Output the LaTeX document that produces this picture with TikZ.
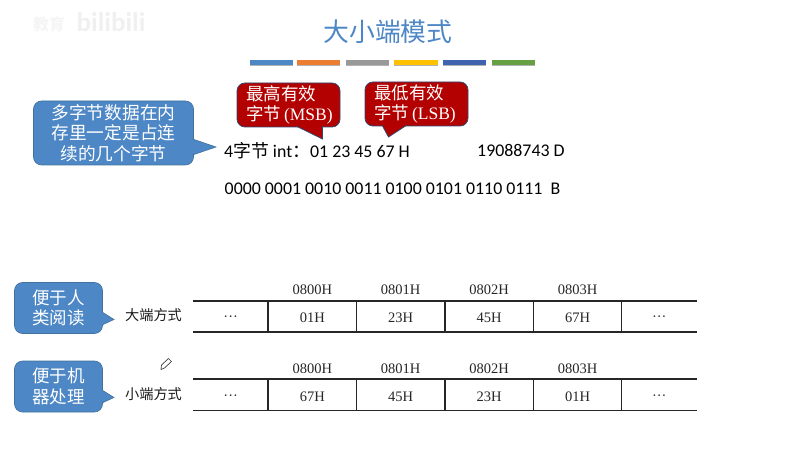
\documentclass[tikz,border=0pt]{standalone}
\usepackage{fontspec}
\setmainfont{Liberation Serif}
\newfontfamily\cjk{Noto Sans CJK SC}
\newfontfamily\calibri{Carlito}
\usetikzlibrary{calc}
\definecolor{bluefill}{HTML}{4D87C5}
\definecolor{blueline}{HTML}{41719C}
\definecolor{redfill}{HTML}{B30000}
\definecolor{redline}{HTML}{2F4A70}
\newcommand{\calltail}[4]{
  \path[#1,draw=none] (#2) -- (#3) -- (#4) -- cycle;
  \draw[#1,fill=none] (#2) -- (#3) -- (#4);
}
\tikzset{
  {blue bubble/.style} ={fill=bluefill,draw=blueline,line width=.6pt},
  {red bubble/.style} ={fill=redfill,draw=redline,line width=.8pt},
  {bubble box/.style} ={rectangle,rounded corners=8pt,inner sep=0,text=white,align=center},
  {bar/.style} ={draw=none,fill=#1},
  {rule/.style} ={draw=black!85,line width=1.9pt},
  {thin rule/.style} ={draw=black!85,line width=1.3pt},
  {cell/.style} ={font=\fontsize{14.5}{16}\selectfont,text=black!85,inner sep=0},
  {way/.style} ={font=\cjk\fontsize{14.2}{16}\selectfont,text=black!90,inner sep=0},
  {line text/.style} ={font=\calibri\fontsize{17.85}{20}\selectfont,text=black,anchor=west,inner sep=0},
}
\begin{document}
\begin{tikzpicture}[x=1pt,y=-1pt]
\useasboundingbox (0,0) rectangle (806,449);

% watermark
\node[inner sep=0,text=black!4,font=\cjk\bfseries\fontsize{16}{18}\selectfont] (mark) at (49,24) {教育};
\node[inner sep=0,text=black!6,font=\calibri\bfseries\fontsize{27}{29}\selectfont] (bili) at (111,22) {bilibili};

% title
\node[inner sep=0,text=bluefill,font=\cjk\fontsize{25.8}{28}\selectfont] (title) at (388,32) {大小端模式};
\foreach \xa/\xb/\col in {250/293/4D87C5,297/340/ED7D31,346/389/999999,394/438/FFC000,443/486/3F63AE,492/535/66A045}{
  \definecolor{barcol}{HTML}{\col}
  \fill[black!30] (\xa,62) rectangle (\xb,66.5);
  \fill[bar=barcol] (\xa,60) rectangle (\xb,65);
}

% top bubbles
\node[bubble box,blue bubble,minimum width=160pt,minimum height=64pt,
  font=\cjk\fontsize{17.7}{20.5}\selectfont] (multi) at (113.5,133)
  {多字节数据在内\\存里一定是占连\\续的几个字节};
\coordinate (multitip) at (216,147);
\coordinate (multia) at (192.5,139);
\coordinate (multib) at (192.5,155);
\calltail{blue bubble}{multia}{multitip}{multib}

\node[bubble box,red bubble,minimum width=103pt,minimum height=44pt,
  align=left,text width=85pt,inner xsep=9pt,
  font=\cjk\fontsize{17.5}{19.5}\selectfont] (msb) at (288.5,105)
  {最高有效\\字节{\rmfamily\kern3pt(MSB)}};
\coordinate (msbtip) at (322.5,139);
\coordinate (msba) at (296,126);
\coordinate (msbb) at (322.5,126);
\calltail{red bubble}{msba}{msbtip}{msbb}

\node[bubble box,red bubble,minimum width=103pt,minimum height=44pt,
  align=left,text width=85pt,inner xsep=9pt,
  font=\cjk\fontsize{17.5}{20.5}\selectfont] (lsb) at (416.5,104)
  {最低有效\\字节{\rmfamily\kern3pt(LSB)}};
\coordinate (lsbtip) at (388.5,137);
\coordinate (lsba) at (382,125);
\coordinate (lsbb) at (407,125);
\calltail{red bubble}{lsba}{lsbtip}{lsbb}

% number lines
\node[line text] (hexline) at (224,150.5) {4{\cjk 字节} int{\cjk ：}01 23 45 67 H};
\node[line text] (decline) at (477,150.5) {19088743 D};
\node[line text] (binline) at (224.5,188.5) {0000 0001 0010 0011 0100 0101 0110 0111\ \ B};

% lower bubbles
\node[bubble box,blue bubble,minimum width=88pt,minimum height=51pt,
  font=\cjk\fontsize{17.5}{20.5}\selectfont] (human) at (58.5,308) {便于人\\类阅读};
\coordinate (humantip) at (114,319.5);
\coordinate (humana) at (102,312);
\coordinate (humanb) at (102,325);
\calltail{blue bubble}{humana}{humantip}{humanb}

\node[bubble box,blue bubble,minimum width=88pt,minimum height=51pt,
  font=\cjk\fontsize{17.5}{20.5}\selectfont] (machine) at (58.5,386.5) {便于机\\器处理};
\coordinate (machinetip) at (114,397.5);
\coordinate (machinea) at (102,390);
\coordinate (machineb) at (102,403);
\calltail{blue bubble}{machinea}{machinetip}{machineb}

\node[way] (bigway) at (153.5,315.5) {大端方式};
\node[way] (littleway) at (153.5,394.5) {小端方式};

% pencil
\draw[black!75,line width=.7pt,fill=white,line join=round]
  (161,369.5) -- (161.5,365) -- (168.5,358.5) -- (171.5,361.5) -- (164.5,368) -- cycle;

% big endian table
\coordinate (bigtl) at (193,301);
\coordinate (bigtr) at (697,301);
\coordinate (bigbl) at (193,332);
\coordinate (bigbr) at (697,332);
\draw[rule] (bigtl) -- (bigtr);
\draw[rule] (bigbl) -- (bigbr);
\foreach \x in {268,356.7,445,533.3,621.7}
  \draw[draw=black!85,line width=1.2pt] (\x,301) -- (\x,332);
\node[cell] (bigdotl) at (230.7,319) {···};
\node[cell] (bigdotr) at (659.3,319) {···};
\foreach \x/\addr/\val in {312.3/0800H/01H,400.7/0801H/23H,489/0802H/45H,577.5/0803H/67H}{
  \node[cell] (big\addr) at (\x,290) {\addr};
  \node[cell] (big\val) at (\x,318) {\val};
}

% little endian table
\coordinate (littletl) at (193,379);
\coordinate (littletr) at (697,379);
\coordinate (littlebl) at (193,410.5);
\coordinate (littlebr) at (697,410.5);
\draw[thin rule] (littletl) -- (littletr);
\draw[rule] (littlebl) -- (littlebr);
\foreach \x in {268,356.7,445,533.3,621.7}
  \draw[draw=black!85,line width=1.2pt] (\x,379) -- (\x,410.5);
\node[cell] (littledotl) at (230.7,397.5) {···};
\node[cell] (littledotr) at (659.3,397.5) {···};
\foreach \x/\addr/\val in {312.3/0800H/67H,400.7/0801H/45H,489/0802H/23H,577.5/0803H/01H}{
  \node[cell] (little\addr) at (\x,368.3) {\addr};
  \node[cell] (little\val) at (\x,396.7) {\val};
}
\end{tikzpicture}
\end{document}
